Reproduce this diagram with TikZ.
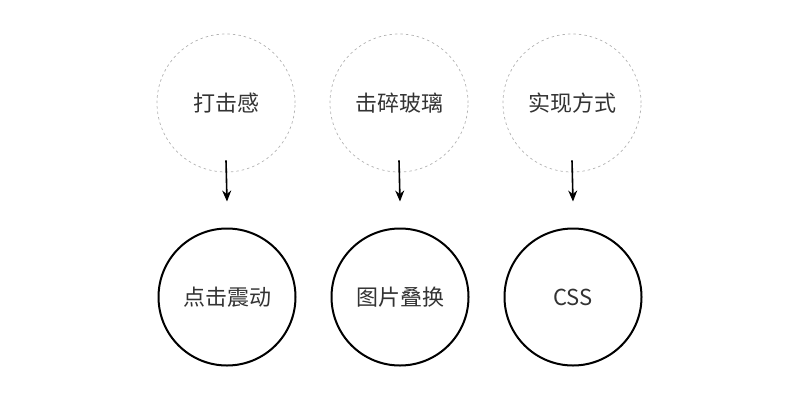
\documentclass[tikz,border=0pt]{standalone}
\usepackage{fontspec}
\setmainfont{Noto Sans CJK SC}
\usetikzlibrary{arrows.meta}
\begin{document}
\begin{tikzpicture}[x=1pt,y=-1pt,
  topc/.style={circle,draw=black!30,dash pattern=on 2.5pt off 3pt,line width=0.7pt,minimum size=138pt,inner sep=0pt,text=black!80,font=\fontsize{22}{26}\selectfont},
  botc/.style={circle,draw=black,line width=2pt,minimum size=137pt,inner sep=0pt,text=black!80,font=\fontsize{22}{26}\selectfont},
  arr/.style={-{Stealth[length=11pt,width=9pt]},line width=1.6pt}]
\useasboundingbox (0,0) rectangle (800,400);
\node[topc] (t1) at (226,103) {打击感};
\node[topc] (t2) at (399,103) {击碎玻璃};
\node[topc] (t3) at (572,103) {实现方式};
\node[botc] (b1) at (227,297) {点击震动};
\node[botc] (b2) at (400,297) {图片叠换};
\node[botc] (b3) at (573,297) {CSS};
\foreach \i in {1,2,3}{
  \draw[arr] ([yshift=12pt]t\i.south) -- ([yshift=26pt]b\i.north);
}
\end{tikzpicture}
\end{document}
